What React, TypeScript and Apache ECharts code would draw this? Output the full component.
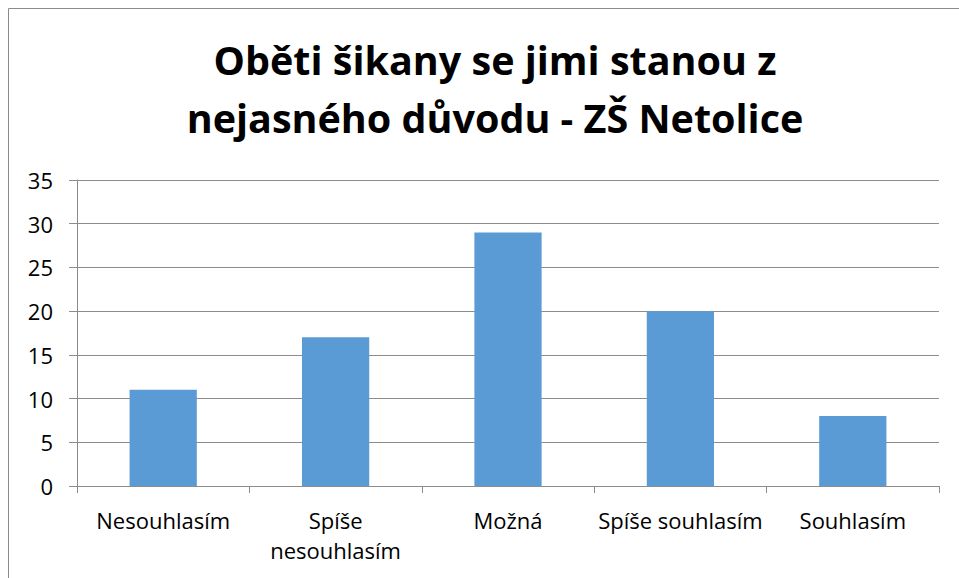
import React, { useEffect, useRef } from "react";
import * as echarts from "echarts";

const titleLines = ["Oběti šikany se jimi stanou z", "nejasného důvodu - ZŠ Netolice"];
const categories = ["Nesouhlasím", "Spíše nesouhlasím", "Možná", "Spíše souhlasím", "Souhlasím"];
const values = [11, 17, 29, 20, 8];
const yTicks = { min: 0, max: 35, interval: 5 };

const FONT = "'Open Sans', 'Noto Sans', sans-serif";

export default function App() {
  const ref = useRef<HTMLDivElement>(null);
  useEffect(() => {
    if (!ref.current) return;
    const chart = echarts.init(ref.current, null, { renderer: "svg" });
    chart.setOption({
      animation: false,
      backgroundColor: "#ffffff",
      title: {
        text: titleLines.join("\n"),
        left: 490,
        textAlign: "center",
        top: 26,
        textStyle: {
          fontFamily: FONT,
          fontWeight: "bold",
          fontSize: 39.5,
          lineHeight: 58,
          color: "#000000",
        },
      },
      graphic: [
        {
          type: "rect",
          shape: { x: 8.5, y: 8.5, width: 1000, height: 1000 },
          style: { fill: "none", stroke: "#8c8c8c", lineWidth: 1 },
          silent: true,
          z: -1,
        },
      ],
      grid: { left: 77, right: 20, top: 180, bottom: 92, containLabel: false },
      xAxis: {
        type: "category",
        data: categories,
        axisLine: { show: true, lineStyle: { color: "#8c8c8c", width: 1 } },
        axisTick: { show: true, length: 7, lineStyle: { color: "#8c8c8c" }, alignWithLabel: false },
        axisLabel: {
          interval: 0,
          fontFamily: FONT,
          fontSize: 22,
          color: "#000000",
          margin: 19,
          lineHeight: 30,
          formatter: (v: string) => (v.length > 16 ? v.replace(" ", "\n") : v),
        },
        splitLine: { show: false },
      },
      yAxis: {
        type: "value",
        min: yTicks.min,
        max: yTicks.max,
        interval: yTicks.interval,
        axisLine: { show: true, lineStyle: { color: "#8c8c8c", width: 1 } },
        axisTick: { show: true, length: 8, lineStyle: { color: "#8c8c8c" } },
        axisLabel: { fontFamily: FONT, fontSize: 22, color: "#000000", margin: 24 },
        splitLine: { show: true, lineStyle: { color: "#8c8c8c", width: 1 } },
      },
      series: [
        {
          type: "bar",
          data: values,
          barWidth: "39%",
          itemStyle: { color: "#5b9bd5" },
        },
      ],
    });
    return () => chart.dispose();
  }, []);
  return (
    <div
      ref={ref}
      style={{ position: "fixed", left: 0, top: 0, width: 959, height: 578 }}
    />
  );
}
